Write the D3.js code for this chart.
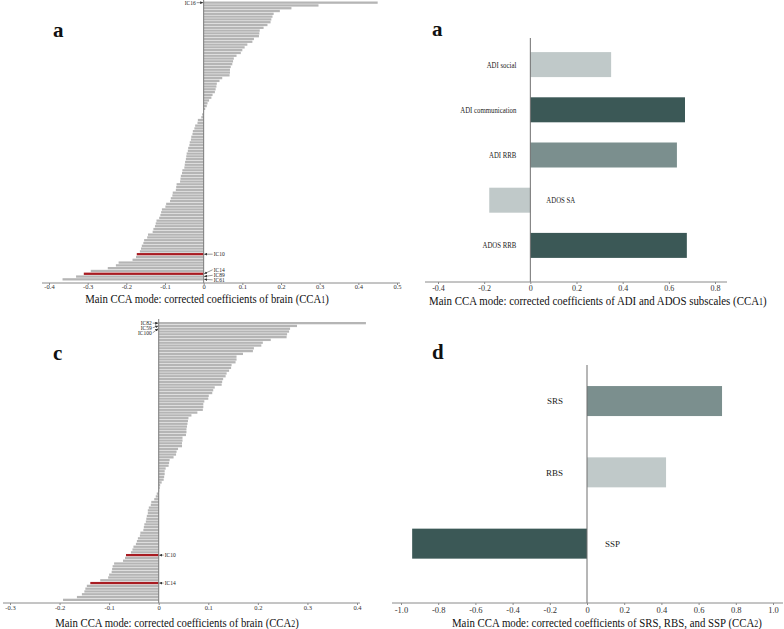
<!DOCTYPE html>
<html><head><meta charset="utf-8">
<script src="https://cdn.jsdelivr.net/npm/d3@7"></script>
<style>body{margin:0;background:#fff}svg{display:block}text{font-family:"Liberation Serif","Times New Roman",serif}</style>
</head><body><svg id="chart" width="784" height="629"></svg>
<script>
// ---------- DATA ----------
const brainCCA1 = [0.45,0.297,0.227,0.197,0.181,0.178,0.175,0.173,0.165,0.155,
  0.145,0.144,0.143,0.130,0.126,0.113,0.106,0.100,0.096,0.085,
  0.078,0.076,0.074,0.070,0.068,0.068,0.067,0.048,0.041,0.034,
  0.033,0.031,0.029,0.023,0.020,0.014,0.010,0.008,0.004,0.001,
  -0.004,-0.006,-0.015,-0.016,-0.022,-0.024,-0.028,-0.029,-0.032,-0.033,
  -0.036,-0.037,-0.040,-0.041,-0.044,-0.045,-0.046,-0.048,-0.049,-0.050,
  -0.055,-0.056,-0.059,-0.060,-0.061,-0.070,-0.071,-0.072,-0.080,-0.081,
  -0.085,-0.087,-0.097,-0.099,-0.108,-0.110,-0.112,-0.115,-0.122,-0.124,
  -0.126,-0.130,-0.132,-0.144,-0.146,-0.154,-0.156,-0.160,-0.162,-0.165,
  -0.173,-0.175,-0.184,-0.220,-0.227,-0.248,-0.292,-0.310,-0.330,-0.365];
const brainCCA1Labels = ["IC16","IC10","IC14","IC89","IC61"];
const brainCCA1LabelIdx = [0,90,97,98,99];
const brainCCA1Highlight = [90,97];
const brainCCA1Ticks = [-0.4,-0.3,-0.2,-0.1,0,0.1,0.2,0.3,0.4,0.5];

const brainCCA2 = [0.418,0.279,0.265,0.263,0.259,0.258,0.226,0.210,0.207,0.192,
  0.190,0.170,0.157,0.157,0.155,0.147,0.146,0.142,0.137,0.135,
  0.130,0.128,0.127,0.113,0.110,0.108,0.101,0.100,0.092,0.090,
  0.090,0.089,0.078,0.066,0.060,0.059,0.058,0.057,0.056,0.056,
  0.055,0.048,0.048,0.047,0.047,0.039,0.036,0.035,0.030,0.022,
  0.021,0.020,0.014,0.012,0.012,0.011,0.010,0.006,0.003,0.002,
  0.001,-0.004,-0.006,-0.009,-0.015,-0.016,-0.020,-0.022,-0.022,-0.024,
  -0.025,-0.026,-0.029,-0.030,-0.031,-0.037,-0.038,-0.042,-0.044,-0.046,
  -0.051,-0.053,-0.056,-0.066,-0.068,-0.072,-0.090,-0.093,-0.094,-0.095,
  -0.100,-0.102,-0.118,-0.138,-0.145,-0.148,-0.150,-0.155,-0.165,-0.193];
const brainCCA2Labels = ["IC82","IC59","IC100","IC10","IC14"];
const brainCCA2LabelIdx = [0,1,2,83,93];
const brainCCA2Highlight = [83,93];
const brainCCA2Ticks = [-0.3,-0.2,-0.1,0,0.1,0.2,0.3,0.4];

const adiCategories = ["ADI social","ADI communication","ADI RRB","ADOS SA","ADOS RRB"];
const adiValues = [0.35,0.67,0.635,-0.178,0.678];
const adiShade = ["light","dark","mid","light","dark"];
const adiTicks = [-0.4,-0.2,0,0.2,0.4,0.6,0.8];

const srsCategories = ["SRS","RBS","SSP"];
const srsValues = [0.726,0.425,-0.94];
const srsShade = ["mid","light","dark"];
const srsTicks = [-1,-0.8,-0.6,-0.4,-0.2,0,0.2,0.4,0.6,0.8,1];

// ---------- STYLE ----------
const shadeColor = {light:"#c0c9c9", mid:"#7b8f8e", dark:"#3b5856"};
const grayBar = "#b5b5b5", redBar = "#a81c22", axisCol = "#8a8a8a";

const svg = d3.select("#chart");
svg.append("rect").attr("width",784).attr("height",629).attr("fill","#fff");
svg.append("defs").append("marker").attr("id","arr")
  .attr("viewBox","0 0 6 6").attr("refX",6).attr("refY",3)
  .attr("markerWidth",3).attr("markerHeight",3).attr("markerUnits","userSpaceOnUse")
  .attr("orient","auto").append("path").attr("d","M0,0L6,3L0,6Z").attr("fill","#333");

const fmt = v => v === 0 ? "0" : v.toFixed(1);

function drawAxis(x, ticks, y, x0, x1, fs, off){
  const a = svg.append("g").attr("transform",`translate(0,${y})`)
    .call(d3.axisBottom(x).tickValues(ticks).tickSize(2).tickSizeOuter(0).tickFormat(fmt));
  a.select(".domain").attr("d",`M${x0},0H${x1}`).attr("stroke",axisCol);
  a.selectAll(".tick line").attr("stroke",axisCol);
  a.selectAll(".tick text").attr("font-size",fs).attr("fill","#333")
    .attr("y",off).attr("dy","0.35em");
}

// condensed text: natural text, horizontally scaled to a target width
function title(x, y, anchor, main, sub, len){
  const g = svg.append("g").attr("transform",`translate(${x},${y})`);
  const t = g.append("text").attr("x",0).attr("y",0).attr("dy","0.35em")
    .attr("text-anchor",anchor).attr("font-size",13).attr("fill","#111");
  t.append("tspan").text(main);
  t.append("tspan").attr("font-size",9.5).text(sub);
  t.append("tspan").text(")");
  const w = t.node().getComputedTextLength();
  g.attr("transform",`translate(${x},${y}) scale(${len/w},1)`);
}

function letter(x, y, s){
  svg.append("text").attr("x",x).attr("y",y).attr("font-size",21)
    .attr("font-weight","bold").attr("fill","#111").text(s);
}

// ---------- BRAIN PANELS ----------
function brainPanel(values, xDom, xRange, yRange, axisY, zeroTop, highlight){
  const x = d3.scaleLinear().domain(xDom).range(xRange);
  const y = d3.scaleBand().domain(d3.range(values.length)).range(yRange).paddingInner(0.18);
  svg.append("g").selectAll("rect").data(values.map((v,i)=>({v,i}))).join("rect")
    .attr("x", d => x(Math.min(0,d.v)))
    .attr("width", d => Math.abs(x(d.v)-x(0)))
    .attr("y", d => y(d.i)).attr("height", y.bandwidth())
    .attr("fill", d => highlight.includes(d.i) ? redBar : grayBar);
  svg.append("line").attr("x1",x(0)).attr("x2",x(0)).attr("y1",zeroTop).attr("y2",axisY)
    .attr("stroke","#7a7a7a").attr("stroke-width",1);
  return {x,y};
}

function icLabels(sc, labels, idx, dx, dys){
  const x0 = sc.x(0);
  labels.forEach((lab,k)=>{
    const by = sc.y(idx[k]) + sc.y.bandwidth()/2;
    const ty = by + dys[k];
    const left = dx[k] < 0;
    const tx = x0 + dx[k];
    svg.append("line").attr("x1", left ? tx+1 : tx-1).attr("y1",ty)
      .attr("x2", left ? x0-0.5 : x0+0.5).attr("y2",by)
      .attr("stroke","#333").attr("stroke-width",0.5).attr("marker-end","url(#arr)");
    svg.append("text").attr("x", tx).attr("y",ty).attr("dy","0.35em")
      .attr("text-anchor", left ? "end" : "start").attr("font-size",5.5).attr("fill","#222").text(lab);
  });
}

// Panel a (top-left)
const pA = brainPanel(brainCCA1, [-0.4,0.5], [49,397], [1.5,280.5], 283, 0, brainCCA1Highlight);
drawAxis(pA.x, brainCCA1Ticks, 283, 42, 400, 6.5, 4);
icLabels(pA, brainCCA1Labels, brainCCA1LabelIdx, [-8,10,10,10,10], [0,0,-4,-1.3,0.5]);
title(207, 298, "middle", "Main CCA mode: corrected coefficients of brain (CCA", "1", 244);
letter(53, 37, "a");

// Panel c (bottom-left)
const pC = brainPanel(brainCCA2, [-0.3,0.4], [10,357], [322,601], 603, 319, brainCCA2Highlight);
drawAxis(pC.x, brainCCA2Ticks, 603, 3, 360, 6.5, 4.5);
icLabels(pC, brainCCA2Labels, brainCCA2LabelIdx, [-7,-7,-7,6,6], [0,1.8,4,0,0]);
title(177, 622, "middle", "Main CCA mode: corrected coefficients of brain (CCA", "2", 244);
letter(53, 360, "c");

// ---------- BEHAVIOUR PANELS ----------
function behPanel(cats, vals, shades, xDom, xRange, yRange, barH, axisY, zeroTop, labPos, labNeg, fs, sx){
  const x = d3.scaleLinear().domain(xDom).range(xRange);
  const y = d3.scalePoint().domain(cats).range(yRange).padding(0.5);
  const data = cats.map((c,i)=>({c, v:vals[i], s:shades[i]}));
  svg.append("g").selectAll("rect").data(data).join("rect")
    .attr("x", d => x(Math.min(0,d.v))).attr("width", d => Math.abs(x(d.v)-x(0)))
    .attr("y", d => y(d.c)-barH/2).attr("height", barH)
    .attr("fill", d => shadeColor[d.s]);
  svg.append("line").attr("x1",x(0)).attr("x2",x(0)).attr("y1",zeroTop).attr("y2",axisY)
    .attr("stroke","#6f6f6f").attr("stroke-width",1);
  svg.append("g").selectAll("text").data(data).join("text")
    .attr("transform", d => `translate(${d.v >= 0 ? x(0)-labPos : x(0)+labNeg},${y(d.c)}) scale(${sx},1)`)
    .attr("dy","0.35em")
    .attr("text-anchor", d => d.v >= 0 ? "end" : "start")
    .attr("font-size", fs).attr("fill","#222").text(d => d.c);
  return x;
}

// Panel a (top-right)
const xB = behPanel(adiCategories, adiValues, adiShade, [-0.4,0.8], [438,715], [42,268], 25, 282, 38, 14, 16, 8.5, 0.8);
drawAxis(xB, adiTicks, 282, 425, 727, 8, 6);
title(429, 300, "start", "Main CCA mode: corrected coefficients of ADI and ADOS subscales (CCA", "1", 338);
letter(432, 36, "a");

// Panel d (bottom-right)
const xD = behPanel(srsCategories, srsValues, srsShade, [-1,1], [401,773], [365.4,579.3], 30, 603, 365, 24, 18, 9, 1);
drawAxis(xD, srsTicks, 603, 392, 783, 8.5, 7);
title(452, 622, "start", "Main CCA mode: corrected coefficients of SRS, RBS, and SSP (CCA", "2", 310);
letter(432, 359, "d");
</script></body></html>
